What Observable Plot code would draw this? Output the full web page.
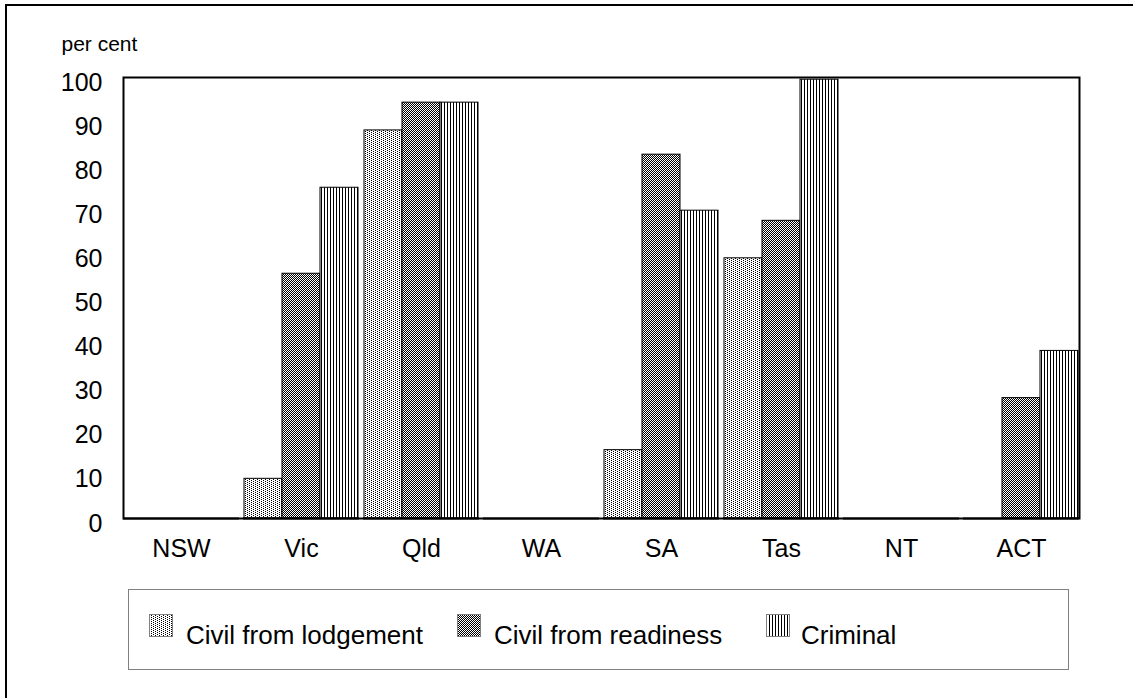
<!DOCTYPE html>
<html><head><meta charset="utf-8">
<script src="https://cdn.jsdelivr.net/npm/d3@7"></script>
<script src="https://cdn.jsdelivr.net/npm/@observablehq/plot@0.6"></script>
<style>
body{margin:0;background:#fff;font-family:"Liberation Sans",Arial,sans-serif;}
#page{position:relative;width:1133px;height:698px;overflow:hidden;background:#fff;}
#border{position:absolute;left:5px;top:4px;width:1300px;height:900px;border:2px solid #000;}
#chart{position:absolute;left:0;top:0;}
#legend{position:absolute;left:128px;top:589px;width:941px;height:81px;box-sizing:border-box;border:1px solid #808080;background:#fff;}
.sw{position:absolute;top:24px;width:24px;height:23px;}
.lt{position:absolute;top:32px;font-size:26px;line-height:26px;white-space:nowrap;color:#000;}
</style></head>
<body><div id="page"><div id="border"></div>
<svg width="0" height="0" style="position:absolute"><defs>
<pattern id="pLodge" width="4" height="2" patternUnits="userSpaceOnUse"><rect width="4" height="2" fill="#fff"/><rect x="0" y="0" width="1" height="1" fill="#000"/><rect x="2" y="1" width="1" height="1" fill="#000"/></pattern>
<pattern id="pReady" width="2" height="2" patternUnits="userSpaceOnUse"><rect width="2" height="2" fill="#fff"/><rect x="0" y="0" width="1" height="1" fill="#000"/><rect x="1" y="1" width="1" height="1" fill="#000"/></pattern>
<pattern id="pCrim" width="3" height="3" patternUnits="userSpaceOnUse"><rect width="3" height="3" fill="#fff"/><rect x="0" y="0" width="1" height="3" fill="#000"/></pattern>
</defs></svg>
<div id="chart"></div>
<div id="legend"></div>
</div>
<script>
const states = ["NSW", "Vic", "Qld", "WA", "SA", "Tas", "NT", "ACT"];
const seriesNames = ["Civil from lodgement", "Civil from readiness", "Criminal"];
const lodgement = [null, 9, 88, null, 15.5, 59, null, null];
const readiness = [null, 55.5, 94.3, null, 82.5, 67.5, null, 27.3];
const criminal  = [null, 75, 94.3, null, 69.8, 99.5, null, 38];
const yTicks = [0, 10, 20, 30, 40, 50, 60, 70, 80, 90, 100];
const yLabel = "per cent";

const seriesValues = [lodgement, readiness, criminal];
const patterns = ["url(#pLodge)", "url(#pReady)", "url(#pCrim)"];
const rows = seriesNames.map((s, i) =>
  states.map((st, j) => ({state: st, series: s, value: seriesValues[i][j]}))
        .filter(d => d.value != null));

const chart = Plot.plot({
  width: 1133, height: 580,
  marginLeft: 120, marginRight: 50, marginTop: 77, marginBottom: 62,
  style: {fontFamily: "'Liberation Sans', Arial, sans-serif", fontSize: "25px", color: "#000", background: "transparent", overflow: "visible"},
  fx: {domain: states, padding: 0.03},
  x: {domain: seriesNames, padding: 0, axis: null},
  y: {domain: [0, 100]},
  marks: [
    ...rows.map((r, i) => Plot.barY(r, {fx: "state", x: "series", y: "value", fill: patterns[i], stroke: "#000", strokeWidth: 1})),
    Plot.ruleY(states, {fx: d => d, y: 0, stroke: "#000", strokeWidth: 2}),
    Plot.axisY({facetAnchor: "left", ticks: yTicks, tickSize: 0, tickPadding: 21, dy: 5, label: null, fontSize: 25}),
    Plot.axisFx({anchor: "bottom", tickSize: 0, tickPadding: 21, label: null, fontSize: 25}),
    Plot.frame({facet: "super", stroke: "#000", strokeWidth: 2}),
    Plot.text([yLabel], {facet: "super", frameAnchor: "top-left", dx: -62, dy: -33, textAnchor: "start", lineAnchor: "middle", fontSize: 21})
  ]
});
document.getElementById("chart").appendChild(chart);

const legend = document.getElementById("legend");
const swLeft = [20, 328, 637];
const txLeft = [57, 365, 672];
seriesNames.forEach((s, i) => {
  const sw = document.createElementNS("http://www.w3.org/2000/svg", "svg");
  sw.setAttribute("class", "sw");
  sw.setAttribute("width", 24); sw.setAttribute("height", 23);
  sw.style.left = swLeft[i] + "px";
  sw.innerHTML = `<rect x="0.5" y="0.5" width="23" height="22" fill="${patterns[i]}" stroke="#808080" stroke-width="1"/>`;
  legend.appendChild(sw);
  const t = document.createElement("div");
  t.className = "lt";
  t.style.left = txLeft[i] + "px";
  t.textContent = s;
  legend.appendChild(t);
});
</script>
</body></html>
